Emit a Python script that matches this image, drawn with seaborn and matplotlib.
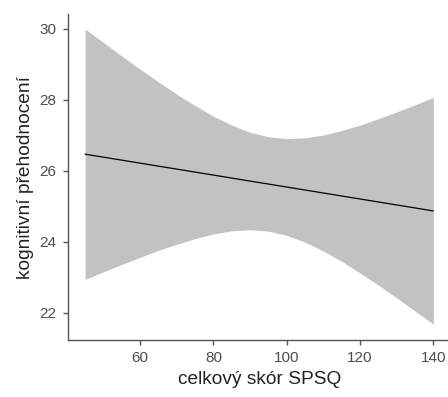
import numpy as np
import pandas as pd
import matplotlib
matplotlib.use("Agg")
import matplotlib.pyplot as plt
import seaborn as sns

# Linear fit of cognitive reappraisal on the SPSQ total score, with its 95% band
spsq = [45, 50, 55, 60, 65, 70, 75, 80, 85, 90, 95, 100,
        105, 110, 115, 120, 125, 130, 135, 140]
band_upper = [30.00, 29.62, 29.24, 28.87, 28.51, 28.16, 27.84, 27.54, 27.29, 27.09,
              26.96, 26.91, 26.93, 27.01, 27.14, 27.29, 27.47, 27.66, 27.86, 28.07]
band_lower = [22.94, 23.15, 23.36, 23.56, 23.76, 23.93, 24.09, 24.22, 24.31, 24.34,
              24.30, 24.18, 23.99, 23.74, 23.45, 23.12, 22.78, 22.42, 22.05, 21.68]
fit_x = [45, 140]
fit_y = [26.47, 24.87]

x_ticks = [60, 80, 100, 120, 140]
y_ticks = [22, 24, 26, 28, 30]

sns.set_theme(style="white")
plt.rcParams["font.family"] = ["Liberation Sans", "DejaVu Sans"]

fig = plt.figure(figsize=(4.48, 3.97), dpi=100)
ax = fig.add_axes([67.7 / 448, 57 / 397, (450.7 - 67.7) / 448, (340 - 14.1) / 397])

ax.fill_between(spsq, band_lower, band_upper, color="#C2C2C2", linewidth=0, zorder=1)
fit = pd.DataFrame({"spsq": fit_x, "score": fit_y})
sns.lineplot(data=fit, x="spsq", y="score", color="black", linewidth=0.9, ax=ax, zorder=2)

ax.set_xlim(40.25, 144.75)
ax.set_ylim(21.23, 30.42)
ax.set_xticks(x_ticks)
ax.set_yticks(y_ticks)

ax.set_xlabel("celkový skór SPSQ", fontsize=13.8, color="#222222", labelpad=4)
ax.set_ylabel("kognitivní přehodnocení", fontsize=13.8, color="#222222", labelpad=4)

for side in ("top", "right"):
    ax.spines[side].set_visible(False)
for side in ("left", "bottom"):
    ax.spines[side].set_color("#555555")
    ax.spines[side].set_linewidth(1.0)

ax.tick_params(axis="both", which="major", direction="out", length=3.6, width=1.0,
               color="#555555", labelcolor="#4D4D4D", labelsize=11, pad=4.5,
               left=True, bottom=True)

fig.savefig("out.png", dpi=100)
